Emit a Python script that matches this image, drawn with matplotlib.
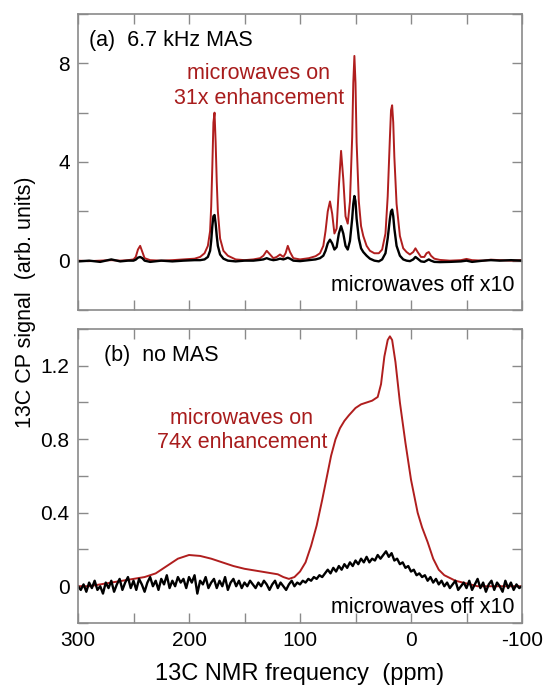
import matplotlib
matplotlib.use("Agg")
import matplotlib.pyplot as plt

plt.rcParams['font.family'] = ['Liberation Sans', 'DejaVu Sans']

# ---------------- panel (a): 6.7 kHz MAS ----------------
ppm_a = [300, 290, 280, 270, 262, 255, 250, 248, 246, 244,
         242, 240, 235, 225, 215, 205, 195, 190, 186, 183,
         181, 180, 179, 178, 177, 176, 175, 174, 172, 169,
         165, 158, 150, 142, 136, 133, 130, 127, 124, 121,
         118, 115, 113, 111, 109, 106, 100, 92, 86, 82,
         79, 77, 75, 73, 71, 69, 67, 65, 63, 61,
         59, 57, 55, 53, 52, 51, 50, 49, 47, 45,
         43, 40, 37, 33, 29, 26, 23, 21, 19, 18,
         17, 16, 15, 13, 10, 7, 4, 1, -2, -4,
         -6, -9, -12, -14, -16, -18, -21, -26, -35, -45,
         -50, -55, -65, -72, -80, -90, -100]
on_a = [0.0, -0.02, 0.0, 0.02, 0.0, 0.02, 0.05, 0.15, 0.45, 0.6,
        0.35, 0.1, 0.02, 0.0, 0.02, 0.05, 0.08, 0.15, 0.3, 0.6,
        1.2, 2.2, 3.8, 5.6, 6.0, 4.8, 3.2, 2.0, 0.9, 0.4,
        0.2, 0.05, 0.02, 0.05, 0.1, 0.2, 0.4, 0.25, 0.1, 0.15,
        0.25, 0.15, 0.3, 0.6, 0.35, 0.1, 0.05, 0.1, 0.18, 0.3,
        0.6, 1.2, 2.0, 2.4, 1.9, 1.1, 1.3, 3.0, 4.45, 3.3,
        1.8, 1.5, 2.4, 5.0, 7.2, 8.3, 7.2, 4.8, 2.4, 1.4,
        1.0, 0.6, 0.4, 0.3, 0.3, 0.45, 1.1, 2.6, 5.0, 6.1,
        6.3, 5.6, 4.2, 2.3, 1.0, 0.5, 0.35, 0.25, 0.35, 0.5,
        0.35, 0.15, 0.15, 0.3, 0.35, 0.2, 0.08, 0.03, 0.0, 0.02,
        0.07, 0.02, 0.0, 0.04, 0.02, 0.0, 0.02]
off_a = [-0.03, 0.0, -0.05, 0.05, -0.03, 0.0, 0.0, 0.04, 0.12, 0.15,
         0.1, 0.0, -0.05, 0.0, -0.03, 0.0, 0.02, 0.02, 0.05, 0.15,
         0.4, 0.8, 1.4, 1.8, 1.85, 1.5, 1.0, 0.6, 0.25, 0.08,
         0.0, -0.03, 0.0, 0.0, 0.03, 0.05, 0.1, 0.05, 0.02, 0.04,
         0.08, 0.05, 0.08, 0.12, 0.08, 0.0, -0.02, 0.02, 0.05, 0.1,
         0.2, 0.4, 0.7, 0.85, 0.7, 0.45, 0.55, 1.1, 1.4, 1.1,
         0.6, 0.45, 0.8, 1.7, 2.3, 2.62, 2.4, 1.7, 0.9, 0.5,
         0.35, 0.2, 0.08, 0.0, -0.03, 0.05, 0.3, 0.9, 1.7, 2.0,
         2.07, 1.8, 1.3, 0.6, 0.2, 0.05, 0.0, -0.02, 0.05, 0.15,
         0.08, -0.03, -0.05, 0.0, 0.05, 0.0, -0.05, -0.06, -0.05, -0.03,
         0.0, -0.05, 0.0, 0.02, 0.0, 0.02, 0.0]

# ---------------- panel (b): no MAS ----------------
ppm_b_on = [300, 290, 280, 270, 260, 250, 240, 230, 220, 210,
            200, 190, 180, 170, 160, 150, 140, 130, 120, 115,
            110, 105, 100, 95, 90, 85, 80, 75, 72, 68,
            64, 60, 56, 50, 45, 40, 35, 30, 27, 24,
            21, 19, 17, 14, 10, 5, 0, -6, -10, -15,
            -20, -25, -30, -40, -50, -60, -70, -80, -90, -100]
on_b = [0.0, 0.0, 0.01, 0.02, 0.03, 0.04, 0.05, 0.07, 0.11, 0.15,
        0.17, 0.165, 0.15, 0.13, 0.11, 0.095, 0.085, 0.075, 0.065, 0.05,
        0.04, 0.05, 0.08, 0.13, 0.22, 0.33, 0.47, 0.62, 0.71, 0.8,
        0.86, 0.9, 0.93, 0.97, 0.99, 1.0, 1.01, 1.03, 1.1, 1.25,
        1.34, 1.36, 1.34, 1.22, 1.0, 0.78, 0.58, 0.4, 0.32, 0.24,
        0.15, 0.09, 0.06, 0.03, 0.015, 0.0, 0.0, 0.0, 0.0, 0.0]

ppm_b_off = [300, 297.5, 295, 292.5, 290, 287.5, 285, 282.5, 280, 277.5,
             275, 272.5, 270, 267.5, 265, 262.5, 260, 257.5, 255, 252.5,
             250, 247.5, 245, 242.5, 240, 237.5, 235, 232.5, 230, 227.5,
             225, 222.5, 220, 217.5, 215, 212.5, 210, 207.5, 205, 202.5,
             200, 197.5, 195, 192.5, 190, 187.5, 185, 182.5, 180, 177.5,
             175, 172.5, 170, 167.5, 165, 162.5, 160, 157.5, 155, 152.5,
             150, 147.5, 145, 142.5, 140, 137.5, 135, 132.5, 130, 127.5,
             125, 122.5, 120, 117.5, 115, 112.5, 110, 107.5, 105, 102.5,
             100, 97.5, 95, 92.5, 90, 87.5, 85, 82.5, 80, 77.5,
             75, 72.5, 70, 67.5, 65, 62.5, 60, 57.5, 55, 52.5,
             50, 47.5, 45, 42.5, 40, 37.5, 35, 32.5, 30, 27.5,
             25, 22.5, 20, 17.5, 15, 12.5, 10, 7.5, 5, 2.5,
             0, -2.5, -5, -7.5, -10, -12.5, -15, -17.5, -20, -22.5,
             -25, -27.5, -30, -32.5, -35, -37.5, -40, -42.5, -45, -47.5,
             -50, -52.5, -55, -57.5, -60, -62.5, -65, -67.5, -70, -72.5,
             -75, -77.5, -80, -82.5, -85, -87.5, -90, -92.5, -95, -97.5,
             -100]
off_b = [0.00, -0.02, 0.01, -0.03, 0.02, -0.01, 0.03, -0.02, 0.00, -0.04,
         0.02, -0.01, 0.03, -0.03, 0.01, 0.04, -0.02, 0.02, 0.05, -0.01,
         0.03, -0.02, 0.04, 0.01, -0.03, 0.02, 0.05, 0.00, 0.03, -0.02,
         0.04, 0.01, 0.06, -0.01, 0.03, 0.00, 0.05, 0.02, 0.04, -0.01,
         0.05, 0.02, 0.06, -0.04, 0.03, 0.01, 0.05, -0.01, 0.02, 0.04,
         -0.01, 0.03, 0.00, 0.05, -0.02, 0.02, 0.04, 0.00, 0.03, -0.01,
         0.02, 0.00, 0.03, 0.01, -0.01, 0.02, 0.00, 0.03, 0.01, -0.02,
         0.01, 0.03, -0.01, 0.02, 0.00, -0.02, 0.01, 0.03, 0.00, 0.02,
         0.01, 0.03, 0.02, 0.04, 0.03, 0.05, 0.04, 0.06, 0.05, 0.07,
         0.09, 0.07, 0.10, 0.08, 0.11, 0.09, 0.12, 0.10, 0.13, 0.11,
         0.14, 0.12, 0.15, 0.13, 0.16, 0.13, 0.15, 0.14, 0.17, 0.15,
         0.17, 0.19, 0.16, 0.18, 0.14, 0.15, 0.12, 0.13, 0.10, 0.11,
         0.08, 0.09, 0.06, 0.07, 0.05, 0.06, 0.03, 0.05, 0.02, 0.04,
         0.01, 0.03, 0.00, 0.02, -0.01, 0.01, 0.03, -0.02, 0.00, 0.02,
         -0.01, 0.03, -0.02, 0.01, 0.04, -0.01, 0.02, -0.03, 0.01, 0.03,
         -0.02, 0.02, 0.00, -0.03, 0.03, -0.01, 0.02, -0.02, 0.01, -0.01,
         0.00]

xticks = [300, 250, 200, 150, 100, 50, 0, -50, -100]
xticklabels = ['300', '', '200', '', '100', '', '0', '', '-100']
yticks_a = [-2, 0, 2, 4, 6, 8, 10]
yticklabels_a = ['', '0', '', '4', '', '8', '']
yticks_b = [-0.2, 0, 0.2, 0.4, 0.6, 0.8, 1.0, 1.2, 1.4]
yticklabels_b = ['', '0', '', '0.4', '', '0.8', '', '1.2', '']

RED = '#b01e1e'
TXT_RED = '#a81c1c'
FRAME = '#8a8a8a'
FS = 15.5

fig = plt.figure(figsize=(5.47, 6.89), dpi=100)
ax1 = fig.add_axes([0.1426, 0.5501, 0.8117, 0.4296])
ax2 = fig.add_axes([0.1426, 0.0958, 0.8117, 0.4267])

for ax in (ax1, ax2):
    ax.set_xlim(300, -100)
    ax.set_xticks(xticks)
    for s in ax.spines.values():
        s.set_color(FRAME)
        s.set_linewidth(1.2)
    ax.tick_params(direction='in', length=7, width=1.0, color=FRAME,
                   top=True, right=True, labelsize=15, pad=6)

ax1.plot(ppm_a, on_a, color=RED, lw=1.4)
ax1.plot(ppm_a, off_a, color='black', lw=1.7)
ax1.set_ylim(-2, 10)
ax1.set_yticks(yticks_a)
ax1.set_yticklabels(yticklabels_a)
ax1.set_xticklabels([])

ax2.plot(ppm_b_on, on_b, color=RED, lw=1.4)
ax2.plot(ppm_b_off, off_b, color='black', lw=1.7)
ax2.set_ylim(-0.2, 1.4)
ax2.set_yticks(yticks_b)
ax2.set_yticklabels(yticklabels_b)
ax2.set_xticklabels(xticklabels)
ax2.set_xlabel('13C NMR frequency  (ppm)', fontsize=17, labelpad=9)

# annotations panel a
ax1.text(290.5, 8.92, '(a)  6.7 kHz MAS', fontsize=FS, ha='left', va='center')
ax1.text(137, 7.6, 'microwaves on', fontsize=FS, color=TXT_RED, ha='center', va='center')
ax1.text(137, 6.58, '31x enhancement', fontsize=FS, color=TXT_RED, ha='center', va='center')
ax1.text(-92.8, -0.99, 'microwaves off x10', fontsize=FS, ha='right', va='center')

# annotations panel b
ax2.text(277, 1.257, '(b)  no MAS', fontsize=FS, ha='left', va='center')
ax2.text(152.4, 0.914, 'microwaves on', fontsize=FS, color=TXT_RED, ha='center', va='center')
ax2.text(152.4, 0.78, '74x enhancement', fontsize=FS, color=TXT_RED, ha='center', va='center')
ax2.text(-92.8, -0.113, 'microwaves off x10', fontsize=FS, ha='right', va='center')

fig.text(0.046, 0.562, '13C CP signal  (arb. units)', fontsize=15.5, rotation=90,
         ha='center', va='center')

fig.savefig('out.png', dpi=100)
